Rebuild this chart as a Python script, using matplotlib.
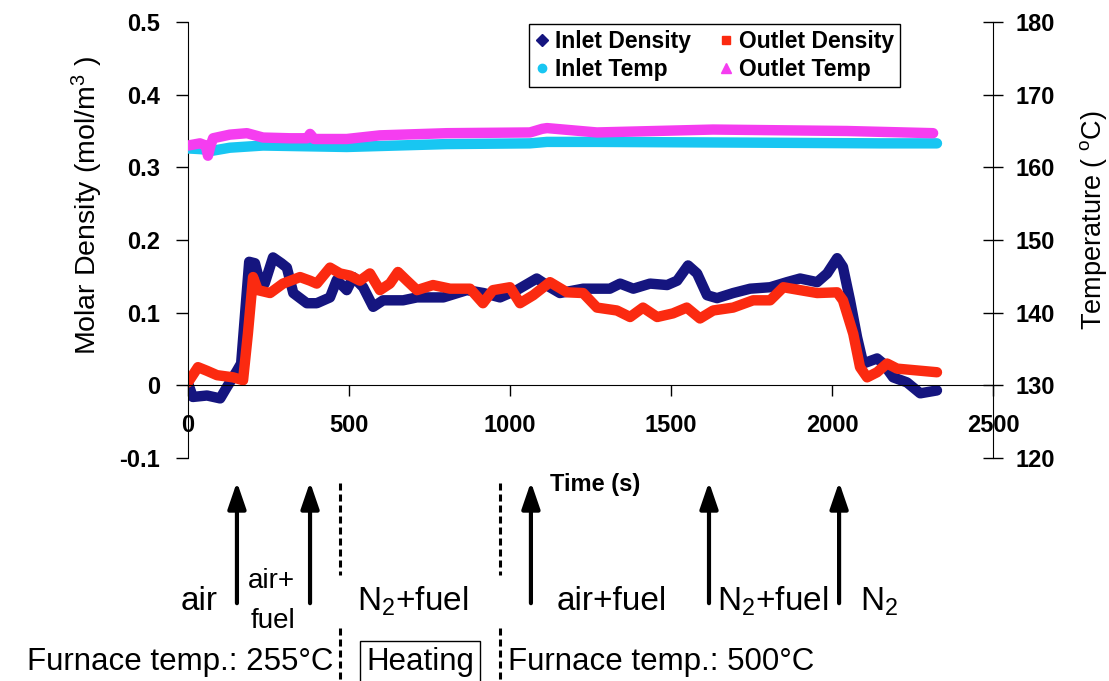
import matplotlib
matplotlib.use('Agg')
import matplotlib.pyplot as plt
import matplotlib.transforms as mtransforms
from matplotlib.lines import Line2D

plt.rcParams['font.family'] = ['Liberation Sans', 'DejaVu Sans']
plt.rcParams['mathtext.fontset'] = 'custom'
plt.rcParams['mathtext.rm'] = 'Liberation Sans'
plt.rcParams['mathtext.it'] = 'Liberation Sans:italic'
plt.rcParams['mathtext.bf'] = 'Liberation Sans:bold'

# inlet molar density (mol/m3) vs time (s)
t_inlet_density = [0, 15, 59, 100, 120, 152, 165, 190, 208, 224, 238, 264, 290, 307, 327,
                   369, 400, 441, 462, 493, 513, 544, 575, 606, 668, 711, 793, 866, 918,
                   969, 1021, 1083, 1124, 1155, 1227, 1310, 1342, 1383, 1435, 1488, 1519,
                   1553, 1581, 1612, 1643, 1693, 1746, 1808, 1860, 1901, 1954, 1985, 2016,
                   2034, 2056, 2078, 2097, 2140, 2159, 2190, 2233, 2274, 2326]
inlet_density = [0.003, -0.016, -0.014, -0.018, -0.003, 0.02, 0.03, 0.17, 0.168, 0.14, 0.14,
                 0.176, 0.168, 0.162, 0.127, 0.113, 0.113, 0.121, 0.145, 0.131, 0.149, 0.135,
                 0.108, 0.117, 0.117, 0.121, 0.121, 0.131, 0.127, 0.121, 0.131, 0.147, 0.135,
                 0.127, 0.133, 0.133, 0.14, 0.133, 0.14, 0.138, 0.144, 0.165, 0.154, 0.124,
                 0.12, 0.127, 0.133, 0.135, 0.142, 0.147, 0.142, 0.154, 0.175, 0.163, 0.117,
                 0.066, 0.03, 0.037, 0.03, 0.011, 0.004, -0.011, -0.007]

# outlet molar density (mol/m3) vs time (s)
t_outlet_density = [0, 31, 59, 90, 140, 171, 186, 202, 217, 255, 295, 348, 379, 400, 441,
                    472, 503, 534, 565, 596, 627, 652, 680, 711, 761, 814, 876, 916, 947,
                    1000, 1031, 1072, 1124, 1177, 1227, 1270, 1332, 1373, 1413, 1457, 1506,
                    1549, 1590, 1631, 1693, 1755, 1808, 1849, 1901, 1954, 2016, 2034, 2066,
                    2087, 2109, 2140, 2171, 2202, 2326]
outlet_density = [0.004, 0.025, 0.02, 0.014, 0.011, 0.007, 0.071, 0.149, 0.131, 0.127, 0.14,
                  0.149, 0.144, 0.14, 0.162, 0.154, 0.151, 0.144, 0.154, 0.131, 0.14, 0.156,
                  0.144, 0.131, 0.138, 0.133, 0.133, 0.113, 0.131, 0.135, 0.113, 0.124, 0.142,
                  0.128, 0.127, 0.107, 0.103, 0.094, 0.107, 0.094, 0.099, 0.107, 0.092, 0.103,
                  0.107, 0.117, 0.117, 0.135, 0.131, 0.127, 0.128, 0.117, 0.071, 0.025, 0.011,
                  0.018, 0.03, 0.023, 0.018]

# inlet / outlet gas temperature (deg C) vs time (s)
t_inlet_temp = [0, 40, 78, 130, 233, 493, 804, 1062, 1115, 1270, 1736, 2149, 2326]
inlet_temp = [162.6, 162.5, 162.3, 162.7, 163.0, 162.8, 163.2, 163.3, 163.5, 163.5, 163.4,
              163.3, 163.3]
t_outlet_temp = [0, 37, 55, 62, 70, 78, 130, 183, 233, 317, 370, 379, 392, 493, 596, 804,
                 1062, 1100, 1115, 1270, 1631, 2047, 2314]
outlet_temp = [163.0, 163.3, 163.0, 161.6, 163.0, 164.0, 164.5, 164.7, 164.1, 164.0, 164.0,
               164.6, 163.9, 163.9, 164.4, 164.7, 164.8, 165.3, 165.4, 164.8, 165.2, 165.0,
               164.7]

time_ticks = [0, 500, 1000, 1500, 2000, 2500]
density_ticks = [-0.1, 0, 0.1, 0.2, 0.3, 0.4, 0.5]
density_labels = ['-0.1', '0', '0.1', '0.2', '0.3', '0.4', '0.5']
temp_ticks = [120, 130, 140, 150, 160, 170, 180]

# gas switching events and the furnace heating window (s)
switch_times = [152, 379, 1065, 1618, 2022]
heating_window = [472, 969]

navy = '#15157f'
red = '#fb2a10'
cyan = '#18c6f2'
magenta = '#f53df0'

fig = plt.figure(figsize=(11.09, 6.81), dpi=100)
ax = fig.add_axes([188 / 1109, 1 - 458 / 681, 805 / 1109, 436 / 681])

line_kw = dict(lw=7.5, solid_joinstyle='round', solid_capstyle='round')
ax.plot(t_inlet_density, inlet_density, color=navy, **line_kw)
ax.plot(t_outlet_density, outlet_density, color=red, **line_kw)

ax.set_xlim(0, 2500)
ax.set_ylim(-0.1, 0.5)
ax.spines['bottom'].set_position(('data', 0))
ax.spines['top'].set_visible(False)
ax.spines['right'].set_visible(False)
ax.set_xticks(time_ticks)
ax.set_xticklabels([str(v) for v in time_ticks], fontweight='bold')
ax.set_yticks(density_ticks)
ax.set_yticklabels(density_labels, fontweight='bold')
ax.tick_params(axis='x', direction='out', length=8, width=1, pad=13, labelsize=17)
ax.tick_params(axis='y', direction='out', length=9, width=1, pad=11, labelsize=17)

ax.set_ylabel('Molar Density (mol/m$^{3}$ )', fontsize=20.5)
ax.yaxis.set_label_coords(-0.103, 0.58)
ax.set_xlabel('Time (s)', fontsize=17, fontweight='bold')
ax.xaxis.set_label_coords(0.5056, -0.034)

ax2 = ax.twinx()
ax2.plot(t_inlet_temp, inlet_temp, color=cyan, **line_kw)
ax2.plot(t_outlet_temp, outlet_temp, color=magenta, **line_kw)
ax2.set_ylim(120, 180)
for side in ['top', 'left', 'bottom']:
    ax2.spines[side].set_visible(False)
ax2.set_yticks(temp_ticks)
ax2.set_yticklabels([str(v) for v in temp_ticks], fontweight='bold')
ax2.tick_params(axis='y', direction='inout', length=14, width=1, pad=9.5, labelsize=17)
ax2.set_ylabel('Temperature ( $^{\\mathrm{o}}$C)', fontsize=19.5)
ax2.yaxis.set_label_coords(1.105, 0.546)

handles = [
    Line2D([], [], ls='none', marker='D', ms=6, color=navy),
    Line2D([], [], ls='none', marker='o', ms=6, color=cyan),
    Line2D([], [], ls='none', marker='s', ms=6, color=red),
    Line2D([], [], ls='none', marker='^', ms=7, color=magenta),
]
labels = ['Inlet Density', 'Inlet Temp', 'Outlet Density', 'Outlet Temp']
leg = ax2.legend(handles, labels, ncol=2, loc='upper left', bbox_to_anchor=(0.4236, 0.9954),
                 prop={'size': 16.5, 'weight': 'bold'}, frameon=True, fancybox=False,
                 edgecolor='black', framealpha=1, borderpad=0.25, borderaxespad=0,
                 handlelength=0.6, handletextpad=0.3, columnspacing=1.2, labelspacing=0.25)
leg.get_frame().set_linewidth(1.0)

# annotations under the time axis
trans = mtransforms.blended_transform_factory(ax.transData, ax.transAxes)
for t in switch_times:
    ax.annotate('', xy=(t, -0.055), xytext=(t, -0.333), xycoords=trans, textcoords=trans,
                annotation_clip=False,
                arrowprops=dict(arrowstyle='-|>,head_length=1.6,head_width=0.55',
                                mutation_scale=10, lw=3, color='black',
                                shrinkA=0, shrinkB=0))

for t in heating_window:
    for y0, y1 in [(-0.057, -0.268), (-0.39, -0.52)]:
        ax.plot([t, t], [y0, y1], transform=trans, clip_on=False, color='black',
                lw=2.2, linestyle=(0, (2.3, 1.3)))

txt = dict(transform=trans, va='baseline', fontsize=24)
ax.text(93, -0.349, 'air', ha='right', **txt)
ax.text(186, -0.298, 'air+', ha='left', transform=trans, va='baseline', fontsize=20)
ax.text(193, -0.390, 'fuel', ha='left', transform=trans, va='baseline', fontsize=20)
ax.text(525, -0.349, 'N$_2$+fuel', ha='left', **txt)
ax.text(1146, -0.349, 'air+fuel', ha='left', **txt)
ax.text(1643, -0.349, 'N$_2$+fuel', ha='left', **txt)
ax.text(2087, -0.349, 'N$_2$', ha='left', **txt)

row = dict(transform=trans, va='baseline', fontsize=22.5)
ax.text(450, -0.486, 'Furnace temp.: 255°C', ha='right', **row)
ax.text(720, -0.486, 'Heating', ha='center', bbox=dict(boxstyle='square,pad=0.2', fc='white',
                                                       ec='black', lw=1), **row)
ax.text(994, -0.486, 'Furnace temp.: 500°C', ha='left', **row)

fig.savefig('out.png', dpi=100)
